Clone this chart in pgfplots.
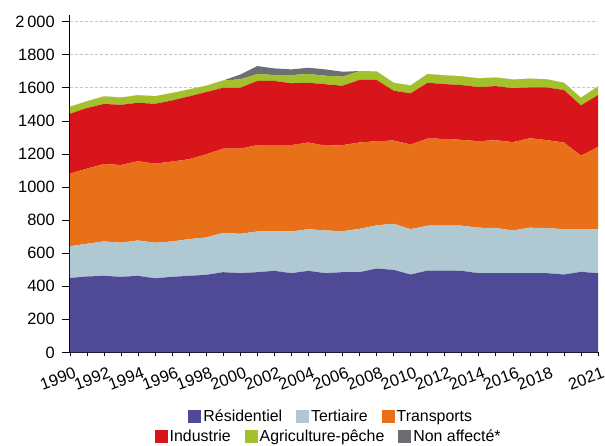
\documentclass[border=0pt]{standalone}
\usepackage{pgfplots}
\pgfplotsset{compat=1.18}
\usepackage{pgfplotstable}
\usepackage{fontspec}
\setmainfont{Liberation Sans}

\definecolor{cres}{HTML}{4E4A96}
\definecolor{cter}{HTML}{AFC8D2}
\definecolor{ctra}{HTML}{E87019}
\definecolor{cind}{HTML}{D7151B}
\definecolor{cagr}{HTML}{A2C12A}
\definecolor{cna}{HTML}{6D6E71}

% emissions par secteur (valeurs empilees)
\pgfplotstableread{
year res ter tra ind agr na
1990 450 192 439 362 42 0
1991 459 198 454 366 41 0
1992 463 208 468 363 46 0
1993 457 206 470 364 44 0
1994 463 214 479 353 46 0
1995 448 215 478 362 46 0
1996 457 214 483 369 45 0
1997 463 222 483 380 42 0
1998 469 226 503 376 38 0
1999 485 238 509 368 44 0
2000 479 238 515 368 51 29
2001 485 246 522 388 42 48
2002 493 238 522 388 36 40
2003 479 252 522 374 50 34
2004 493 252 524 361 53 38
2005 479 258 513 371 52 38
2006 485 248 520 359 55 30
2007 485 262 522 378 54 0
2008 507 261 509 370 52 0
2009 499 279 503 301 48 0
2010 471 274 512 309 48 0
2011 495 271 527 337 53 0
2012 495 271 525 331 53 0
2013 493 273 519 331 53 0
2014 479 275 523 327 53 0
2015 479 273 531 327 52 0
2016 479 258 534 326 53 0
2017 479 275 541 307 53 0
2018 479 273 531 319 49 0
2019 471 274 524 317 44 0
2020 487 258 445 303 46 0
2021 479 266 497 314 52 0
}\data

\pgfplotsset{
  boxlegend/.style={
    legend style={draw=none, fill=none, font=\fontsize{16}{18}\selectfont,
      /tikz/every even column/.append style={column sep=12bp}},
    legend image code/.code={\fill[##1] (0bp,-6.5bp) rectangle (13bp,6.5bp);},
  },
}

\begin{document}
\begin{tikzpicture}
  \begin{axis}[
      name=main,
      scale only axis,
      width=529bp, height=338bp,
      xmin=1990, xmax=2021,
      ymin=0, ymax=2040,
      axis x line*=bottom,
      axis y line*=left,
      axis line style={black, line width=1.2pt},
      tick align=outside,
      major tick length=8bp,
      xtick style={/pgfplots/major tick length=4bp},
      tick style={black, line width=0.6pt},
      xtick={1990,1991,...,2021},
      xticklabels={1990,,1992,,1994,,1996,,1998,,2000,,2002,,2004,,2006,,2008,,2010,,2012,,2014,,2016,,2018,,,2021},
      ytick={0,200,...,2000},
      yticklabels={0,200,400,600,800,1000,1200,1400,1600,1800,2\,000},
      tick label style={font=\fontsize{16.5}{18}\selectfont},
      xticklabel style={rotate=20, anchor=north east, xshift=2bp, yshift=-6bp, inner sep=1bp},
      yticklabel style={inner sep=1bp, xshift=-6bp},
      ymajorgrids,
      grid style={gray!45, dash pattern=on 3pt off 2pt, line width=0.6pt},
      stack plots=y,
      boxlegend,
      legend columns=3,
      legend style={at={(0.495,-0.19)}, anchor=center},
    ]
    \addplot[fill=cres, draw=none] table[x=year, y=res] {\data} \closedcycle;
    \addplot[fill=cter, draw=none] table[x=year, y=ter] {\data} \closedcycle;
    \addplot[fill=ctra, draw=none] table[x=year, y=tra] {\data} \closedcycle;
    \addplot[fill=cind, draw=none] table[x=year, y=ind] {\data} \closedcycle;
    \addplot[fill=cagr, draw=none] table[x=year, y=agr] {\data} \closedcycle;
    \addplot[fill=cna, draw=none] table[x=year, y=na] {\data} \closedcycle;
    \legend{Résidentiel, Tertiaire, Transports}
  \end{axis}
  % second row of the legend
  \begin{axis}[
      at={(main.south west)}, anchor=south west,
      scale only axis,
      width=529bp, height=338bp,
      xmin=1990, xmax=2021, ymin=0, ymax=2040,
      hide axis,
      boxlegend,
      legend columns=3,
      legend style={at={(0.49,-0.249)}, anchor=center},
    ]
    \addlegendimage{fill=cind, draw=none}
    \addlegendimage{fill=cagr, draw=none}
    \addlegendimage{fill=cna, draw=none}
    \legend{Industrie, Agriculture-pêche, Non affecté*}
  \end{axis}
  \pgfresetboundingbox
  \path[use as bounding box] ([xshift=-70bp, yshift=-93bp]main.south west)
    rectangle ([xshift=7bp, yshift=15bp]main.north east);
\end{tikzpicture}
\end{document}
